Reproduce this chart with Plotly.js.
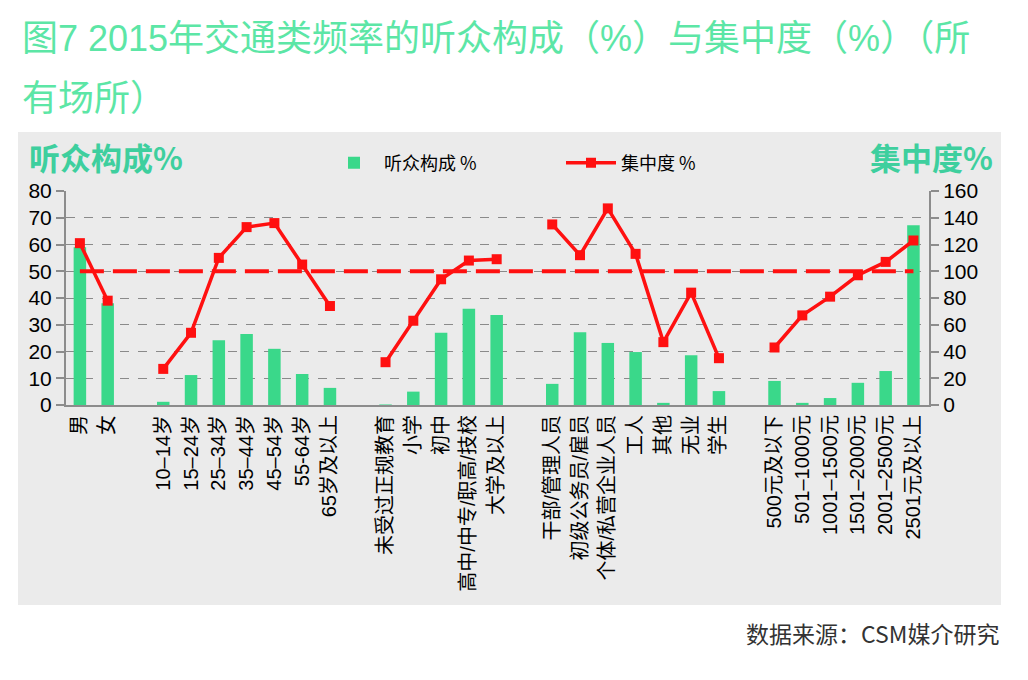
<!DOCTYPE html>
<html>
<head>
<meta charset="utf-8">
<script src="https://cdn.plot.ly/plotly-3.0.1.min.js"></script>
<style>
  html, body { margin: 0; padding: 0; background: #fff; }
  #chart { width: 1028px; height: 680px; }
</style>
</head>
<body>
<div id="chart"></div>
<script>
// groups of categories, left-axis share (%) and right-axis concentration (%)
let genderLabels = ['男', '女'];
let genderShare = [59, 38];
let genderConc = [121, 78];

let ageLabels = ['10–14岁', '15–24岁', '25–34岁', '35–44岁', '45–54岁', '55-64岁', '65岁及以上'];
let ageShare = [1.2, 11.2, 24.2, 26.5, 21, 11.6, 6.4];
let ageConc = [27, 54, 110, 133, 136, 105, 74];

let eduLabels = ['未受过正规教育', '小学', '初中', '高中/中专/职高/技校', '大学及以上'];
let eduShare = [0.2, 5, 27, 36, 33.6];
let eduConc = [32, 63, 94, 108, 109];

let jobLabels = ['干部/管理人员', '初级公务员/雇员', '个体/私营企业人员', '工人', '其他', '无业', '学生'];
let jobShare = [7.9, 27.2, 23.2, 19.8, 0.8, 18.6, 5.2];
let jobConc = [135, 112, 147, 113, 47, 84, 35];

let incomeLabels = ['500元及以下', '501–1000元', '1001–1500元', '1501–2000元', '2001–2500元', '2501元及以上'];
let incomeShare = [9, 0.8, 2.6, 8.3, 12.7, 67.2];
let incomeConc = [43, 67, 81, 97, 107, 123];

let baseline = 100;

let groups = [
  [genderLabels, genderShare, genderConc],
  [ageLabels, ageShare, ageConc],
  [eduLabels, eduShare, eduConc],
  [jobLabels, jobShare, jobConc],
  [incomeLabels, incomeShare, incomeConc]
];

// lay the groups out on a numeric axis with one empty slot between groups
let xs = [], labels = [], share = [], lx = [], ly = [];
let pos = 0;
groups.forEach(function (g, gi) {
  if (gi > 0) { lx.push(pos); ly.push(null); pos++; }
  g[0].forEach(function (lab, i) {
    xs.push(pos); labels.push(lab); share.push(g[1][i]);
    lx.push(pos); ly.push(g[2][i]);
    pos++;
  });
});

let fontFam = 'Liberation Sans, Arial, Noto Sans CJK SC, sans-serif';
let cjk = 'Noto Sans CJK SC, sans-serif';

let data = [
  {
    type: 'bar', x: xs, y: share, name: '听众构成 %',
    width: 0.45, marker: {color: '#3ad88a'}
  },
  {
    type: 'scatter', mode: 'lines+markers', x: lx, y: ly, yaxis: 'y2',
    name: '集中度 %', connectgaps: false,
    line: {color: '#ff1010', width: 3.5},
    marker: {symbol: 'square', size: 10, color: '#ff1010'}
  }
];

// paper coords of the grey panel (plot area: x 66..929, y 191..405)
let pw = 863, ph = 214;
let layout = {
  width: 1028, height: 680,
  margin: {l: 66, r: 99, t: 191, b: 275},
  paper_bgcolor: '#ffffff',
  plot_bgcolor: 'rgba(0,0,0,0)',
  font: {family: fontFam, color: '#000'},
  showlegend: true,
  legend: {
    orientation: 'h', x: (324 - 66) / pw, y: (405 - 163) / ph,
    xanchor: 'left', yanchor: 'middle',
    font: {family: cjk, size: 18, color: '#000'},
    bgcolor: 'rgba(0,0,0,0)',
    entrywidth: 172, entrywidthmode: 'pixels', itemwidth: 50
  },
  xaxis: {
    range: [-0.5, 30.56],
    tickvals: xs, ticktext: labels, tickangle: -90,
    tickfont: {family: fontFam, size: 20, color: '#000'},
    showgrid: false, zeroline: false,
    showline: true, linecolor: '#8c8c8c', linewidth: 2,
    ticks: '', fixedrange: true
  },
  yaxis: {
    range: [0, 80], dtick: 10,
    tickfont: {family: fontFam, size: 21, color: '#000'},
    showgrid: true, gridcolor: '#8a8a8a', griddash: 'dash', gridwidth: 1,
    zeroline: false, showline: true, linecolor: '#8c8c8c', linewidth: 2,
    ticks: 'outside', ticklen: 8, tickcolor: '#8c8c8c', tickwidth: 2
  },
  yaxis2: {
    overlaying: 'y', side: 'right', range: [0, 160], dtick: 20,
    tickfont: {family: fontFam, size: 21, color: '#000'},
    showgrid: false, zeroline: false,
    showline: true, linecolor: '#8c8c8c', linewidth: 2,
    ticks: 'outside', ticklen: 8, tickcolor: '#8c8c8c', tickwidth: 2
  },
  shapes: [
    {
      type: 'rect', xref: 'paper', yref: 'paper', layer: 'below',
      x0: (18 - 66) / pw, x1: (1001 - 66) / pw,
      y0: (405 - 605) / ph, y1: (405 - 132) / ph,
      fillcolor: '#ebebeb', line: {width: 0}
    },
    {
      type: 'line', xref: 'x', yref: 'y2', layer: 'above',
      x0: xs[0], x1: xs[xs.length - 1], y0: baseline, y1: baseline,
      line: {color: '#ff1010', width: 4, dash: '24px,9px'}
    }
  ],
  annotations: [
    {
      xref: 'paper', yref: 'paper', x: (20 - 66) / pw, y: (405 - 39) / ph,
      xanchor: 'left', yanchor: 'middle', showarrow: false,
      text: '图7 2015年交通类频率的听众构成（%）与集中度（%）（所',
      font: {family: fontFam, size: 36, color: '#5ce6a6'}
    },
    {
      xref: 'paper', yref: 'paper', x: (20 - 66) / pw, y: (405 - 99) / ph,
      xanchor: 'left', yanchor: 'middle', showarrow: false,
      text: '有场所）',
      font: {family: fontFam, size: 36, color: '#5ce6a6'}
    },
    {
      xref: 'paper', yref: 'paper', x: (27 - 66) / pw, y: (405 - 156) / ph,
      xanchor: 'left', yanchor: 'middle', showarrow: false,
      text: '<b>听众构成%</b>',
      font: {family: cjk, size: 31, color: '#3ecf9e'}
    },
    {
      xref: 'paper', yref: 'paper', x: (995 - 66) / pw, y: (405 - 156) / ph,
      xanchor: 'right', yanchor: 'middle', showarrow: false,
      text: '<b>集中度%</b>',
      font: {family: cjk, size: 31, color: '#3ecf9e'}
    },
    {
      xref: 'paper', yref: 'paper', x: (1001 - 66) / pw, y: (405 - 633) / ph,
      xanchor: 'right', yanchor: 'middle', showarrow: false,
      text: '数据来源：CSM媒介研究',
      font: {family: cjk, size: 23, color: '#333333'}
    }
  ]
};

Plotly.newPlot('chart', data, layout, {displayModeBar: false, staticPlot: true});
</script>
</body>
</html>
